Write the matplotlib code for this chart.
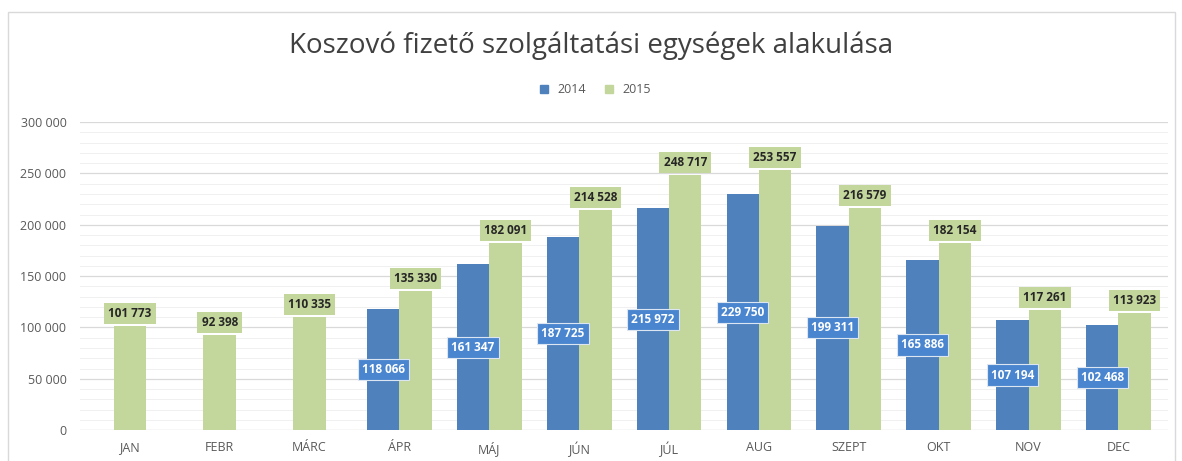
import numpy as np
import matplotlib.pyplot as plt
from matplotlib.patches import Rectangle

plt.rcParams['font.family'] = ['Open Sans', 'DejaVu Sans']

months = ['JAN', 'FEBR', 'MÁRC', 'ÁPR', 'MÁJ', 'JÚN', 'JÚL', 'AUG', 'SZEPT', 'OKT', 'NOV', 'DEC']
v2014 = [None, None, None, 118066, 161347, 187725, 215972, 229750, 199311, 165886, 107194, 102468]
v2015 = [101773, 92398, 110335, 135330, 182091, 214528, 248717, 253557, 216579, 182154, 117261, 113923]

blue = '#4F81BD'
green = '#C3D69B'


def fmt(v):
    return f'{v:,}'.replace(',', ' ')


fig = plt.figure(figsize=(11.82, 4.61), dpi=100)
fig.patches.append(Rectangle((0.007, -0.01), 0.987, 0.985, transform=fig.transFigure,
                             fill=False, edgecolor='#d9d9d9', lw=1))
ax = fig.add_axes([0.068, 0.067, 0.92, 0.668])

x = np.arange(len(months))
w = 0.36

# rácsvonalak
for y in range(10000, 300001, 10000):
    if y % 50000 == 0:
        ax.axhline(y, color='#d9d9d9', lw=0.9, zorder=0)
    else:
        ax.axhline(y, color='#f0f0f0', lw=0.7, zorder=0)
ax.axhline(0, color='#d9d9d9', lw=1, zorder=1)

for i, v in enumerate(v2014):
    if v is None:
        continue
    ax.bar(x[i] - w / 2, v, w, color=blue, zorder=2)
    ax.text(x[i] - w / 2, v / 2, fmt(v), ha='center', va='center', color='white',
            fontsize=8.5, fontweight='bold', zorder=4,
            bbox=dict(boxstyle='square,pad=0.35', fc='#4A86CF', ec='#dce6f2', lw=0.8))

for i, v in enumerate(v2015):
    xc = x[i] + w / 2 if v2014[i] is not None else x[i]
    ax.bar(xc, v, w, color=green, zorder=2)
    ax.annotate(fmt(v), (xc, v), xytext=(0, 9), textcoords='offset points',
                ha='center', va='center', color='#262626', fontsize=8.5, fontweight='bold', zorder=4,
                bbox=dict(boxstyle='square,pad=0.35', fc=green, ec='none'))

ax.set_xlim(-0.55, len(months) - 0.45)
ax.set_ylim(0, 300000)
ax.set_xticks(x)
ax.set_xticklabels(months)
ax.set_yticks(range(0, 300001, 50000))
ax.set_yticklabels([fmt(v) for v in range(0, 300001, 50000)])
ax.tick_params(length=0, colors='#595959', labelsize=9)
ax.tick_params(axis='x', pad=8)
ax.tick_params(axis='y', pad=10)
for s in ax.spines.values():
    s.set_visible(False)

fig.text(0.5, 0.9, 'Koszovó fizető szolgáltatási egységek alakulása', ha='center', va='center',
         fontsize=20, color='#404040')

h1 = plt.Line2D([], [], marker='s', ls='', color=blue, markersize=6)
h2 = plt.Line2D([], [], marker='s', ls='', color=green, markersize=6)
fig.legend([h1, h2], ['2014', '2015'], loc='center', bbox_to_anchor=(0.5, 0.805), ncol=2,
           frameon=False, fontsize=9, handletextpad=0.1, columnspacing=0.8, labelcolor='#595959')

fig.savefig('out.png', dpi=100)
